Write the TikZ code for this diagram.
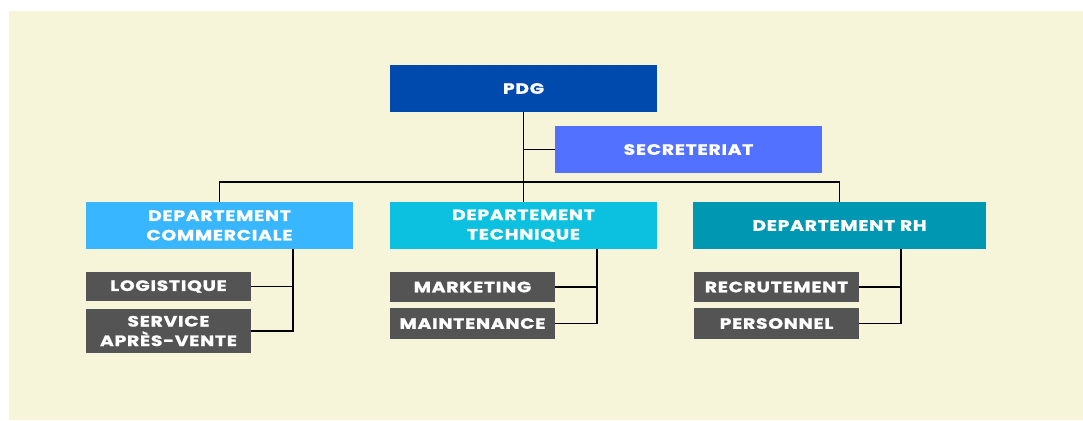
\documentclass[tikz,border=0pt]{standalone}
\usepackage{fontspec}
\newfontfamily\lblfont{Poppins}[LetterSpace=5,FakeStretch=1.25,FakeBold=1.2]
\usetikzlibrary{calc}
\definecolor{paper}{HTML}{F6F5DA}
\definecolor{ceo}{HTML}{004AAD}
\definecolor{sec}{HTML}{5271FF}
\definecolor{deptA}{HTML}{38B6FF}
\definecolor{deptB}{HTML}{0CC0DF}
\definecolor{deptC}{HTML}{0097B2}
\definecolor{unit}{HTML}{545454}
\begin{document}
\begin{tikzpicture}[x=1pt,y=-1pt,
  box/.style={anchor=north west,inner sep=0pt,outer sep=0pt,text=white,
    font=\lblfont\bfseries\fontsize{15}{19.5}\selectfont,align=center},
  link/.style={draw=black,line width=1.4pt}]
  % page and paper
  \useasboundingbox (0,0) rectangle (1083,420);
  \fill[white] (0,0) rectangle (1083,420);
  \fill[paper] (9,11) rectangle (1083,420);

  % top level
  \node[box,fill=ceo,minimum width=267pt,minimum height=47pt] (pdg) at (390,65) {PDG};
  \node[box,fill=sec,minimum width=267pt,minimum height=47pt] (secr) at (555,126) {SECRETERIAT};

  % departments
  \node[box,fill=deptA,minimum width=267pt,minimum height=47pt] (com) at (86,202) {DEPARTEMENT\\COMMERCIALE};
  \node[box,fill=deptB,minimum width=267pt,minimum height=47pt] (tech) at (390,202) {DEPARTEMENT\\TECHNIQUE};
  \node[box,fill=deptC,minimum width=293pt,minimum height=47pt] (rh) at (693,202) {DEPARTEMENT RH};

  % units
  \node[box,fill=unit,minimum width=165pt,minimum height=29pt] (logi) at (86,272) {LOGISTIQUE};
  \node[box,fill=unit,minimum width=165pt,minimum height=44pt] (sav) at (86,309) {SERVICE\\APRÈS-VENTE};
  \node[box,fill=unit,minimum width=165pt,minimum height=30pt] (mkt) at (390,272) {MARKETING};
  \node[box,fill=unit,minimum width=165pt,minimum height=31pt] (mnt) at (390,308) {MAINTENANCE};
  \node[box,fill=unit,minimum width=165pt,minimum height=30pt] (rec) at (694,272) {RECRUTEMENT};
  \node[box,fill=unit,minimum width=165pt,minimum height=31pt] (pers) at (694,308) {PERSONNEL};

  % hierarchy lines
  \coordinate (bus) at (523.5,182);
  \draw[link] (pdg.south) -- (tech.north);
  \draw[link] (secr.west) -- (secr.west -| pdg.south);
  \draw[link] (com.north) |- (bus) -| (rh.north);

  \coordinate (comspine) at (293,249);
  \coordinate (techspine) at (597,249);
  \coordinate (rhspine) at (901,249);
  \draw[link] (comspine) |- (sav.east);
  \draw[link] (logi.east) -- (logi.east -| comspine);
  \draw[link] (techspine) |- (mnt.east);
  \draw[link] (mkt.east) -- (mkt.east -| techspine);
  \draw[link] (rhspine) |- (pers.east);
  \draw[link] (rec.east) -- (rec.east -| rhspine);
\end{tikzpicture}
\end{document}
